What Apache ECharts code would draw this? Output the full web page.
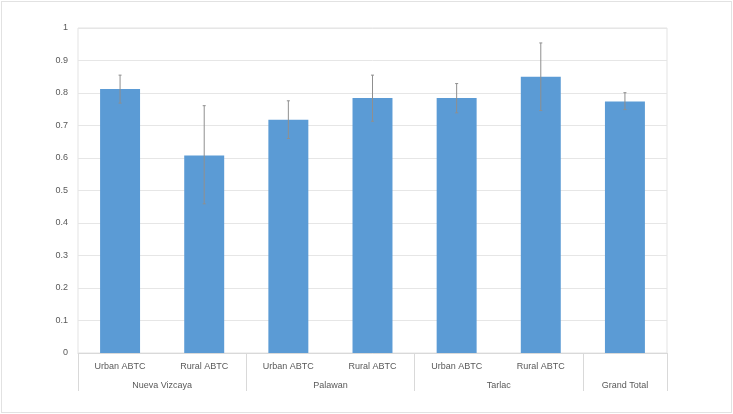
<!DOCTYPE html>
<html>
<head>
<meta charset="utf-8">
<script src="https://cdn.jsdelivr.net/npm/echarts@6/dist/echarts.min.js"></script>
<style>
  html, body { margin: 0; padding: 0; background: #fff; }
  #wrap { position: relative; width: 733px; height: 414px; }
  #chart { width: 733px; height: 414px; }
  #frame {
    position: absolute; left: 1px; top: 1px; width: 729px; height: 410px;
    border: 1px solid #e2e2e2; pointer-events: none;
  }
</style>
</head>
<body>
<div id="wrap">
  <div id="chart"></div>
  <div id="frame"></div>
</div>
<script>
// categories (first level) and groups (second level)
const categories = ['Urban ABTC', 'Rural ABTC', 'Urban ABTC', 'Rural ABTC', 'Urban ABTC', 'Rural ABTC', '']
const groups = ['Nueva Vizcaya', 'Palawan', 'Tarlac', 'Grand Total']
const groupSpans = [2, 2, 2, 1]

// mean values and error bar bounds
const means = [0.812, 0.608, 0.718, 0.785, 0.785, 0.850, 0.774]
const errLow = [0.769, 0.459, 0.660, 0.713, 0.739, 0.746, 0.749]
const errHigh = [0.855, 0.761, 0.776, 0.855, 0.829, 0.954, 0.801]

const yTicks = [0, 0.1, 0.2, 0.3, 0.4, 0.5, 0.6, 0.7, 0.8, 0.9, 1]

// second level axis: points at every half category
const halfPoints = []
for (let i = 0; i <= categories.length * 2; i++) halfPoints.push('')
const tickIdx = new Set([0])
let start = 0
groups.forEach((g, i) => {
  halfPoints[2 * start + groupSpans[i]] = g
  start += groupSpans[i]
  tickIdx.add(2 * start)
})

const errData = categories.map((c, i) => [i, errLow[i], errHigh[i]])

const chart = echarts.init(document.getElementById('chart'))

const labelFont = { fontFamily: 'Liberation Sans', fontSize: 9, color: '#595959' }

chart.setOption({
  animation: false,
  grid: {
    left: 78, right: 66, top: 28, bottom: 61,
    show: true, borderColor: '#e3e3e3', borderWidth: 1
  },
  xAxis: [
    {
      type: 'category',
      data: categories,
      position: 'bottom',
      axisLine: { lineStyle: { color: '#d9d9d9' } },
      axisTick: { show: false },
      axisLabel: { ...labelFont, margin: 9, interval: 0 }
    },
    {
      type: 'category',
      data: halfPoints,
      position: 'bottom',
      boundaryGap: false,
      axisLine: { show: false },
      axisTick: {
        show: true,
        length: 38,
        interval: (idx) => tickIdx.has(idx),
        lineStyle: { color: '#d9d9d9' }
      },
      axisLabel: {
        ...labelFont,
        margin: 28,
        interval: (idx, val) => val !== ''
      }
    }
  ],
  yAxis: {
    type: 'value',
    min: 0,
    max: 1,
    interval: 0.1,
    axisLine: { show: false },
    axisTick: { show: false },
    splitLine: { lineStyle: { color: '#e6e6e6' } },
    axisLabel: {
      ...labelFont,
      margin: 10,
      formatter: (v) => {
        const t = yTicks.find(x => Math.abs(x - v) < 1e-6)
        return t === undefined ? '' : String(t)
      }
    }
  },
  series: [
    {
      type: 'bar',
      xAxisIndex: 0,
      data: means,
      barWidth: '47.5%',
      itemStyle: { color: '#5b9bd5' }
    },
    {
      type: 'custom',
      xAxisIndex: 0,
      data: errData,
      z: 10,
      renderItem: (params, api) => {
        const x = api.value(0)
        const lo = api.coord([x, api.value(1)])
        const hi = api.coord([x, api.value(2)])
        const cap = 1.5
        const style = { stroke: '#8f8f8f', lineWidth: 1 }
        return {
          type: 'group',
          children: [
            { type: 'line', shape: { x1: lo[0], y1: lo[1], x2: hi[0], y2: hi[1] }, style },
            { type: 'line', shape: { x1: hi[0] - cap, y1: hi[1], x2: hi[0] + cap, y2: hi[1] }, style },
            { type: 'line', shape: { x1: lo[0] - cap, y1: lo[1], x2: lo[0] + cap, y2: lo[1] }, style }
          ]
        }
      }
    }
  ]
})
</script>
</body>
</html>
